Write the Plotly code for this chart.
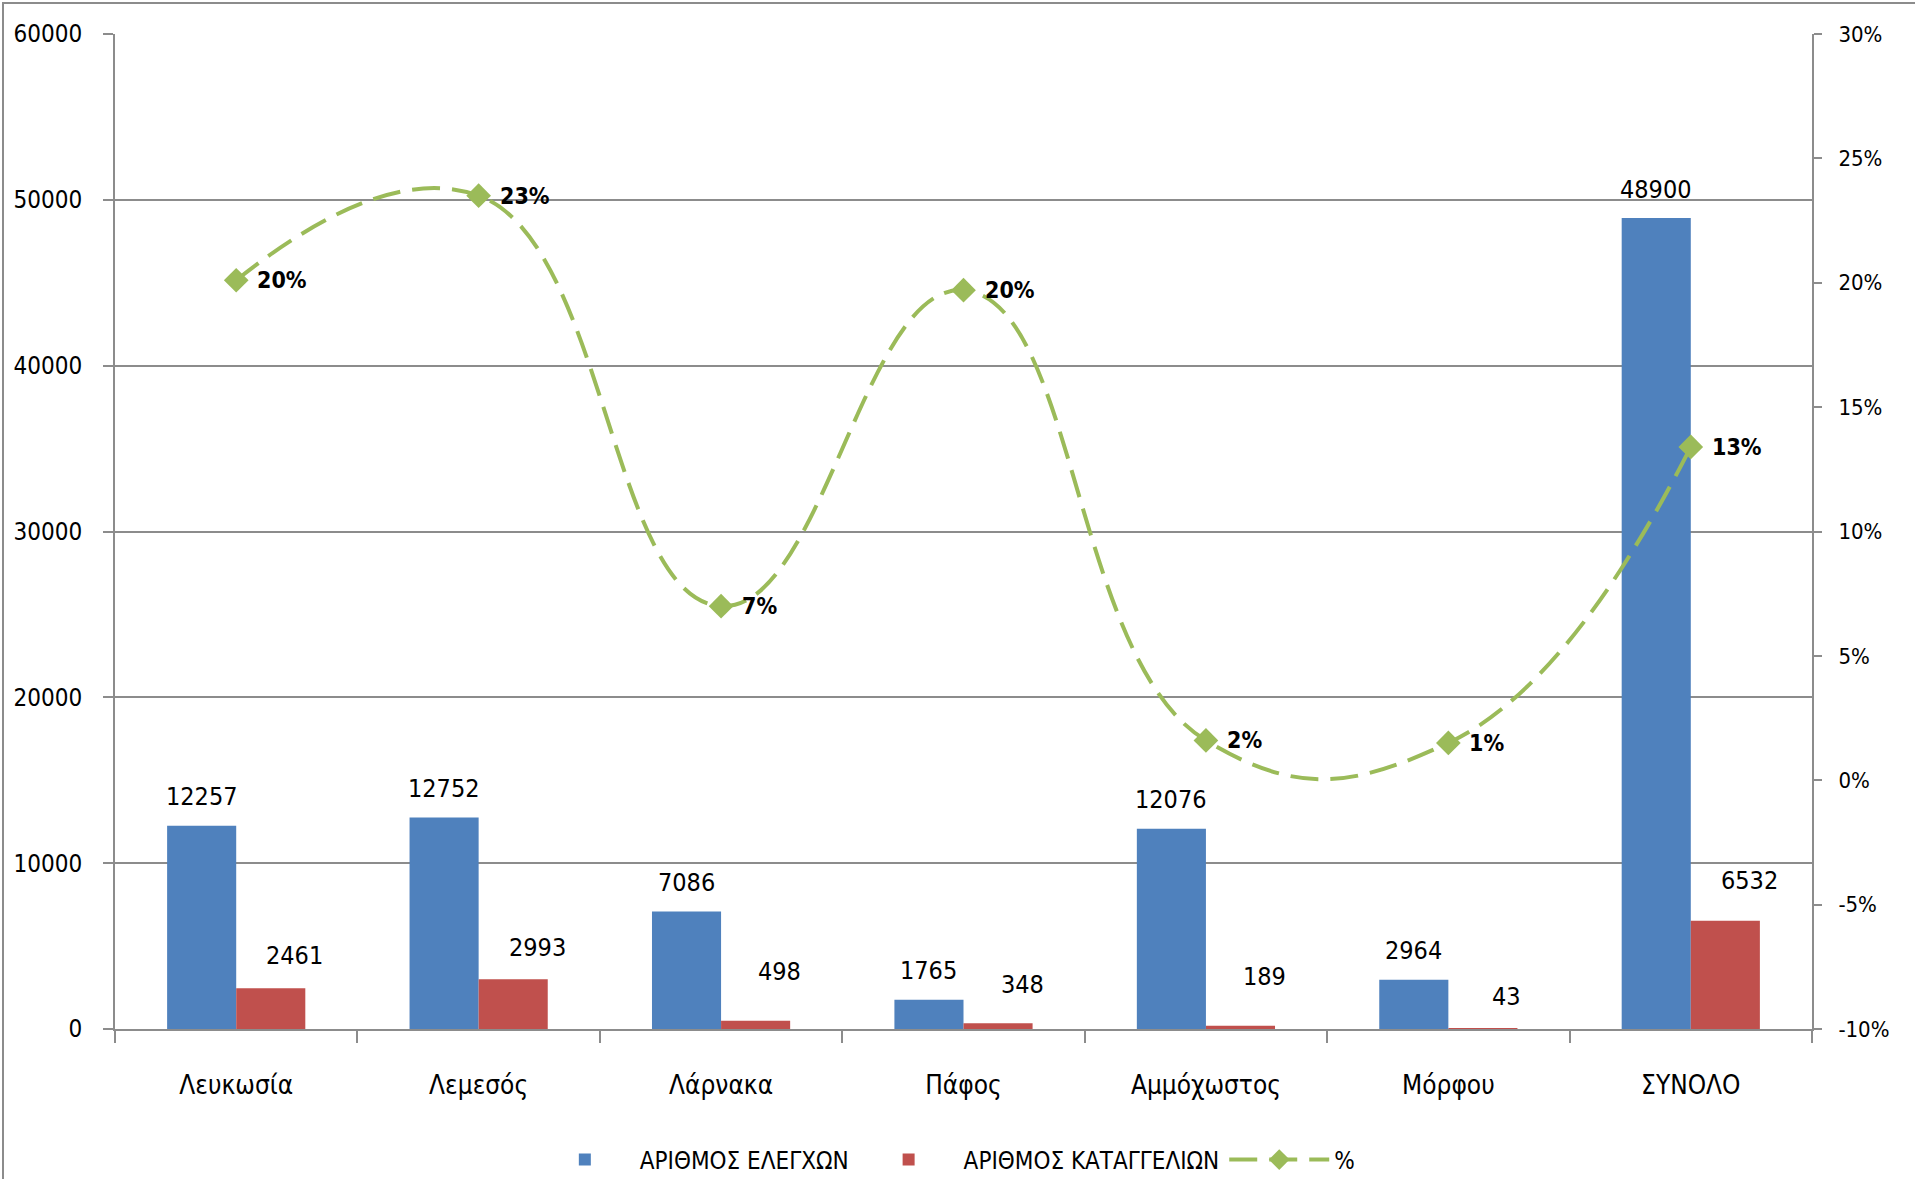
import plotly.graph_objects as go

categories = ["Λευκωσία", "Λεμεσός", "Λάρνακα", "Πάφος", "Αμμόχωστος", "Μόρφου", "ΣΥΝΟΛΟ"]
checks = [12257, 12752, 7086, 1765, 12076, 2964, 48900]
reports = [2461, 2993, 498, 348, 189, 43, 6532]
percent = [0.201, 0.235, 0.070, 0.197, 0.016, 0.015, 0.134]
percent_labels = ["20%", "23%", "7%", "20%", "2%", "1%", "13%"]

left_ticks = [0, 10000, 20000, 30000, 40000, 50000, 60000]
right_ticks = [-0.10, -0.05, 0.0, 0.05, 0.10, 0.15, 0.20, 0.25, 0.30]
right_tick_text = ["-10%", "-5%", "0%", "5%", "10%", "15%", "20%", "25%", "30%"]

series_names = ["ΑΡΙΘΜΟΣ ΕΛΕΓΧΩΝ", "ΑΡΙΘΜΟΣ ΚΑΤΑΓΓΕΛΙΩΝ", "%"]

# label placement styles (pixels)
red_label_yshift = [33, 32, 49, 39, 49, 32, 40]

FONT = "Liberation Sans Narrow, Arial Narrow, DejaVu Sans Condensed, sans-serif"
BLUE = "#4F81BD"
RED = "#C0504D"
GREEN = "#9BBB59"
GRID = "#8C8C8C"

W, H = 1915, 1179
ML, MR, MT, MB = 115, 103, 34, 150
PW = W - ML - MR
PH = H - MT - MB

fig = go.Figure()
fig.add_trace(go.Bar(x=categories, y=checks, name=series_names[0],
                     marker=dict(color=BLUE, line=dict(width=0))))
fig.add_trace(go.Bar(x=categories, y=reports, name=series_names[1],
                     marker=dict(color=RED, line=dict(width=0))))
fig.add_trace(go.Scatter(x=categories, y=percent, name=series_names[2], yaxis="y2",
                         mode="lines+markers", line=dict(color=GREEN, width=4, dash="28px,12px",
                                                         shape="spline", smoothing=1.3),
                         marker=dict(symbol="diamond", size=19, color=GREEN)))

cat_w = PW / len(categories)
bargap = 0.43
bar_w = cat_w * (1 - bargap) / 2

ann = []
for c, v in zip(categories, checks):
    ann.append(dict(x=c, y=v, xref="x", yref="y", text=str(v), showarrow=False,
                    xshift=-bar_w / 2, yshift=29, font=dict(size=25, color="black", family=FONT)))
for c, v, ys in zip(categories, reports, red_label_yshift):
    ann.append(dict(x=c, y=v, xref="x", yref="y", text=str(v), showarrow=False,
                    xshift=bar_w / 2 + 24, yshift=ys, font=dict(size=25, color="black", family=FONT)))
for c, p, t in zip(categories, percent, percent_labels):
    ann.append(dict(x=c, y=p, xref="x", yref="y2", text="<b>" + t + "</b>", showarrow=False,
                    xanchor="left", xshift=19, font=dict(size=23, color="black", family=FONT)))

fig.update_layout(
    width=W, height=H,
    margin=dict(l=ML, r=MR, t=MT, b=MB, autoexpand=False),
    paper_bgcolor="white", plot_bgcolor="white",
    font=dict(family=FONT, color="black"),
    barmode="group", bargap=bargap, bargroupgap=0,
    showlegend=True,
    legend=dict(orientation="h", x=0.489, xanchor="center", yref="container",
                y=1 - 1160 / H, yanchor="middle",
                font=dict(size=24, family=FONT, color="black"), itemwidth=100,
                bgcolor="rgba(0,0,0,0)"),
    xaxis=dict(showline=True, linecolor=GRID, linewidth=2, ticks="outside", ticklen=12,
               tickcolor=GRID, tickwidth=1.5, tickson="boundaries", showgrid=False,
               automargin=False,
               tickfont=dict(size=26, family=FONT, color="black"), ticklabelstandoff=32),
    yaxis=dict(range=[0, 60000], tickvals=left_ticks, ticktext=[str(t) for t in left_ticks],
               showline=True, linecolor=GRID, linewidth=2, ticks="outside", ticklen=10,
               tickcolor=GRID, tickwidth=2, showgrid=True, gridcolor=GRID, gridwidth=2,
               zeroline=False, automargin=False,
               tickfont=dict(size=24, family=FONT, color="black"),
               ticklabelstandoff=16),
    yaxis2=dict(range=[-0.10, 0.30], overlaying="y", side="right", tickvals=right_ticks,
                ticktext=right_tick_text, showline=True, linecolor=GRID, linewidth=2,
                ticks="outside", ticklen=8, tickcolor=GRID, tickwidth=1.5, showgrid=False,
                zeroline=False, automargin=False,
                tickfont=dict(size=22, family=FONT, color="black"),
                ticklabelstandoff=12),
    annotations=ann,
    hovermode=False,
)

# chart-area border
fig.add_shape(type="rect", xref="paper", yref="paper",
              x0=(3 - ML) / PW, x1=(W + 20 - ML) / PW,
              y0=-(H + 20 - MT - PH) / PH, y1=1 + (MT - 3) / PH,
              line=dict(color="#8C8C8C", width=2), layer="below")

fig.write_html("out.html", config={"displayModeBar": False},
               post_script="document.body.style.margin='0';")
